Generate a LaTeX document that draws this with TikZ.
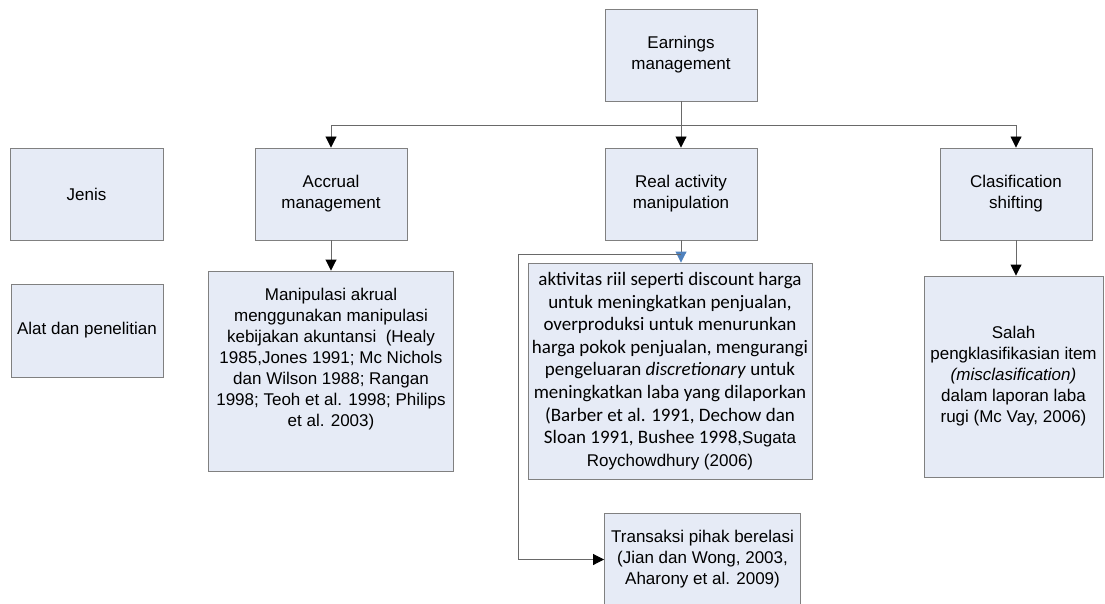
\documentclass[tikz,border=0pt]{standalone}
\usepackage{fontspec}
\setmainfont{Liberation Sans}
\newfontfamily\arialfont{Liberation Sans}
\newfontfamily\calibrifont{Carlito}
\usetikzlibrary{arrows.meta}
\definecolor{boxfill}{RGB}{230,235,246}
\definecolor{boxline}{RGB}{128,128,128}
\definecolor{connline}{RGB}{105,105,105}
\definecolor{bluetip}{RGB}{79,129,189}
\begin{document}
\begin{tikzpicture}[x=1pt,y=-1pt,
  box/.style={draw=boxline, fill=boxfill, line width=0.9pt, align=center, inner sep=2pt,
    font=\fontsize{17}{21}\selectfont},
  calbox/.style={box, font=\calibrifont\fontsize{19}{22.6}\selectfont},
  conn/.style={draw=connline, line width=0.9pt, -{Triangle[width=11pt,length=11pt,color=black]}},
  blueconn/.style={draw=connline, line width=0.9pt, -{Triangle[width=11pt,length=11pt,color=bluetip]}},
  plainconn/.style={draw=connline, line width=0.9pt}]
\clip (0,0) rectangle (1105,604);
\fill[white] (0,0) rectangle (1105,604);

% top
\node[box, minimum width=152pt, minimum height=92pt] (earn) at (681,55) {Earnings\\management};

% row 1
\node[box, minimum width=153pt, minimum height=92pt] (jenis) at (86.5,194) {Jenis};
\node[box, minimum width=152pt, minimum height=92pt] (accr) at (331,194) {Accrual\\management};
\node[box, minimum width=152pt, minimum height=92pt] (real) at (681,194) {Real activity\\manipulation};
\node[box, minimum width=152pt, minimum height=92pt] (clas) at (1016,194) {Clasification\\shifting};

% row 2
\node[box, minimum width=152pt, minimum height=93pt] (alat) at (87,330.5) {Alat dan penelitian};
\node[box, minimum width=245pt, minimum height=200pt] (manip) at (331,371)
  {Manipulasi akrual\\menggunakan manipulasi\\kebijakan akuntansi \ (Healy\\1985,Jones 1991; Mc Nichols\\dan Wilson 1988; Rangan\\1998; Teoh et al. 1998; Philips\\et al. 2003)\\\strut};
\node[calbox, minimum width=284pt, minimum height=216pt] (aktiv) at (670,371)
  {aktivitas riil seperti discount harga\\untuk meningkatkan penjualan,\\overproduksi untuk menurunkan\\harga pokok penjualan, mengurangi\\pengeluaran \textit{discretionary} untuk\\meningkatkan laba yang dilaporkan\\(Barber et al. 1991, Dechow dan\\Sloan 1991, Bushee 1998,{\arialfont\fontsize{17}{22.6}\selectfont Sugata}\\{\arialfont\fontsize{17}{22.6}\selectfont Roychowdhury (2006)}};
\node[box, minimum width=179pt, minimum height=201pt] (salah) at (1013.5,376.5)
  {Salah\\pengklasifikasian item\\\textit{(misclasification)}\\dalam laporan laba\\rugi (Mc Vay, 2006)};
\node[box, minimum width=196pt, minimum height=93pt] (trans) at (702.5,559.5)
  {Transaksi pihak berelasi\\(Jian dan Wong, 2003,\\Aharony et al. 2009)};

% connectors
\coordinate (hub) at (681,125);
\draw[conn] (earn.south) -- (real.north);
\draw[conn] (hub) -| (accr.north);
\draw[conn] (hub) -| (clas.north);
\draw[conn] (accr.south) -- (manip.north);
\draw[conn] (clas.south) -- (clas.south |- salah.north);
\draw[blueconn] (real.south) -- (real.south |- aktiv.north);
\coordinate (branch) at (681,254);
\coordinate (bleft) at (518,254);
\draw[conn] (branch) -- (bleft) |- (trans.west);
\end{tikzpicture}
\end{document}
